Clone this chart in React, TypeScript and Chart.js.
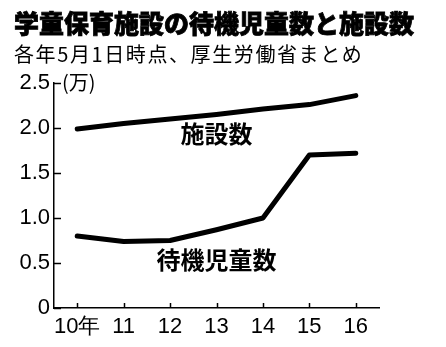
import React, { useEffect, useRef } from "react";
import { Chart, registerables } from "chart.js";

Chart.register(...registerables);

const TITLE = "学童保育施設の待機児童数と施設数";
const SUBTITLE = "各年5月1日時点、厚生労働省まとめ";
const UNIT = "(万)";

const categories = ["10年", "11", "12", "13", "14", "15", "16"];
const facilities = [1.99, 2.05, 2.1, 2.15, 2.21, 2.26, 2.36];
const waiting = [0.8, 0.74, 0.75, 0.87, 1.0, 1.7, 1.72];
const seriesNames = ["施設数", "待機児童数"];
// label anchor: category index and value (in 万)
const labelIndex = [3, 3];
const labelValue = [1.93, 0.54];

const Y_MIN = 0;
const Y_MAX = 2.5;
const Y_STEP = 0.5;

const TICK_FONT = "'Liberation Sans', Arial, sans-serif";
const CJK_FONT = "'Noto Sans CJK JP', 'Noto Sans', sans-serif";

const annotate = {
  id: "annotate",
  afterDraw(chart: any) {
    const { ctx, chartArea, scales } = chart;
    const x = scales.x;
    const y = scales.y;
    ctx.save();
    ctx.strokeStyle = "#000";
    ctx.lineWidth = 1.5;
    // inner ticks on y
    y.ticks.forEach((t: any) => {
      const py = Math.round(y.getPixelForValue(t.value)) + 0.5;
      ctx.beginPath();
      ctx.moveTo(chartArea.left, py);
      ctx.lineTo(chartArea.left + 7, py);
      ctx.stroke();
    });
    // inner ticks on x
    categories.forEach((_, i) => {
      const px = Math.round(x.getPixelForValue(i)) + 0.5;
      ctx.beginPath();
      ctx.moveTo(px, chartArea.bottom);
      ctx.lineTo(px, chartArea.bottom - 5);
      ctx.stroke();
    });
    // unit
    ctx.fillStyle = "#000";
    ctx.font = `20px ${CJK_FONT}`;
    ctx.textAlign = "left";
    ctx.textBaseline = "middle";
    ctx.fillText(UNIT, chartArea.left + 8, y.getPixelForValue(Y_MAX) - 1);
    // series labels
    ctx.font = `bold 24px ${CJK_FONT}`;
    ctx.textAlign = "center";
    seriesNames.forEach((name, i) => {
      ctx.fillText(name, x.getPixelForValue(labelIndex[i]), y.getPixelForValue(labelValue[i]));
    });
    ctx.restore();
  },
};

export default function App() {
  const ref = useRef<HTMLCanvasElement | null>(null);

  useEffect(() => {
    if (!ref.current) return;
    const chart = new Chart(ref.current, {
      type: "line",
      data: {
        labels: categories,
        datasets: [
          {
            label: seriesNames[0],
            data: facilities,
            borderColor: "#000",
            backgroundColor: "#000",
            borderWidth: 5,
            pointRadius: 0,
            tension: 0,
            borderCapStyle: "round",
            borderJoinStyle: "round",
          },
          {
            label: seriesNames[1],
            data: waiting,
            borderColor: "#000",
            backgroundColor: "#000",
            borderWidth: 5,
            pointRadius: 0,
            tension: 0,
            borderCapStyle: "round",
            borderJoinStyle: "round",
          },
        ],
      },
      options: {
        responsive: false,
        animation: false,
        devicePixelRatio: 1,
        layout: { padding: { top: 83, right: 67, left: 0, bottom: 0 } },
        plugins: {
          legend: { display: false },
          tooltip: { enabled: false },
          title: { display: false },
        },
        scales: {
          x: {
            type: "category",
            offset: true,
            grid: { display: true, drawOnChartArea: false, drawTicks: false },
            border: { display: true, color: "#000", width: 1.5 },
            ticks: {
              color: "#000",
              font: { family: TICK_FONT, size: 22 },
              padding: 6,
              maxRotation: 0,
              autoSkip: false,
            },
            afterFit(scale: any) {
              scale.height = 39;
            },
          },
          y: {
            min: Y_MIN,
            max: Y_MAX,
            grid: { display: true, drawOnChartArea: false, drawTicks: false },
            border: { display: true, color: "#000", width: 1.5 },
            ticks: {
              stepSize: Y_STEP,
              color: "#000",
              font: { family: TICK_FONT, size: 22 },
              padding: 4,
              callback: (v: any) => (Number(v) === 0 ? "0" : Number(v).toFixed(1)),
            },
            afterFit(scale: any) {
              scale.width = 54;
            },
          },
        },
      },
      plugins: [annotate],
    });
    return () => chart.destroy();
  }, []);

  return (
    <div style={{ position: "absolute", left: 0, top: 0, width: 446, height: 347, background: "#fff", overflow: "hidden" }}>
      <canvas ref={ref} width={446} height={347} style={{ position: "absolute", left: 0, top: 0 }} />
      <div
        style={{
          position: "absolute",
          left: 14,
          top: 7,
          fontFamily: CJK_FONT,
          fontWeight: 900,
          fontSize: 25,
          lineHeight: "30px",
          color: "#000",
          whiteSpace: "nowrap",
          WebkitTextStroke: "0.8px #000",
        }}
      >
        {TITLE}
      </div>
      <div
        style={{
          position: "absolute",
          left: 14,
          top: 42,
          fontFamily: CJK_FONT,
          fontSize: 20,
          letterSpacing: 1.6,
          lineHeight: "24px",
          color: "#000",
          whiteSpace: "nowrap",
        }}
      >
        {SUBTITLE}
      </div>
    </div>
  );
}
